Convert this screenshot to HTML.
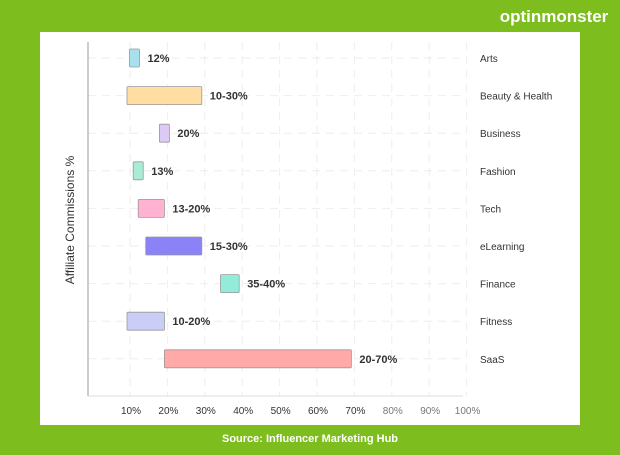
<!DOCTYPE html>
<html><head><meta charset="utf-8"><style>
body{margin:0;width:620px;height:450px;background:#7dbd1e;font-family:"Liberation Sans",sans-serif;overflow:hidden}
</style></head><body>
<svg width="620" height="450" viewBox="0 0 620 450">
<rect x="0" y="0" width="620" height="450" fill="#7dbd1e"/>
<rect x="40" y="32" width="540" height="393" fill="#fff"/>
<text x="554" y="22" text-anchor="middle" font-size="17" font-weight="bold" fill="#fff">optinmonster</text>
<text x="310" y="442" text-anchor="middle" font-size="11" font-weight="bold" fill="#fff">Source: Influencer Marketing Hub</text>
<text transform="translate(74,220) rotate(-90)" text-anchor="middle" font-size="12" fill="#333">Affiliate Commissions %</text>
<g id="grid"></g>
<g id="bars"></g>
<line x1="88" y1="42" x2="88" y2="396" stroke="#bbb" stroke-width="1.5"/>
<line x1="88" y1="396" x2="463" y2="396" stroke="#ddd" stroke-width="1"/>
<g id="ticks"></g>
</svg>
<script>
const categories=["Arts","Beauty & Health","Business","Fashion","Tech","eLearning","Finance","Fitness","SaaS"];
const lows=[12,10,20,13,13,15,35,10,20];
const highs=[12,30,20,13,20,30,40,20,70];
const valueLabels=["12%","10-30%","20%","13%","13-20%","15-30%","35-40%","10-20%","20-70%"];
const fills=["#a9e0f0","#ffdda3","#ddc9f6","#a9ecd6","#ffb2d2","#8b82f7","#93ecd9","#c9cdf8","#ffa9a9"];
const tickValues=[10,20,30,40,50,60,70,80,90,100];
const tickLabels=["10%","20%","30%","40%","50%","60%","70%","80%","90%","100%"];
const NS="http://www.w3.org/2000/svg";
const x=v=>127+(v-10)*3.74;
const y=i=>58+i*37.6;
function mk(t,a,p){const e=document.createElementNS(NS,t);for(const k in a)e.setAttribute(k,a[k]);document.getElementById(p).appendChild(e);return e;}
tickValues.forEach((v,i)=>{
 const g=mk("line",{x1:x(v)+3,y1:42,x2:x(v)+3,y2:396,stroke:"#eee","stroke-dasharray":"8 6"},"grid");
 
 
 const t=mk("text",{x:x(v)+4,y:414,"text-anchor":"middle","font-size":"10",fill:v>=80?"#777":"#333"},"ticks");
 t.textContent=tickLabels[i];
 
 
});
categories.forEach((c,i)=>{
 const h=mk("line",{x1:88,y1:y(i),x2:463,y2:y(i),stroke:"#eee","stroke-dasharray":"8 6"},"grid");
 
 
 let x0,x1;
 if(lows[i]===highs[i]){const cx=x(lows[i]);x0=cx-5;x1=cx+5;}else{x0=x(lows[i]);x1=x(highs[i]);}
 const r=mk("rect",{x:x0,y:y(i)-9,width:x1-x0,height:18,fill:fills[i],stroke:"#999","stroke-width":"0.8",rx:1},"bars");
 
 
 const l=mk("text",{x:x1+8,y:y(i)+4,"font-size":"11","font-weight":"bold",fill:"#333"},"bars");
 l.textContent=valueLabels[i];
 
 
 const cl=mk("text",{x:480,y:y(i)+4,"font-size":"10",fill:"#333"},"bars");
 cl.textContent=c;
 
 
});
</script>
</body></html>
